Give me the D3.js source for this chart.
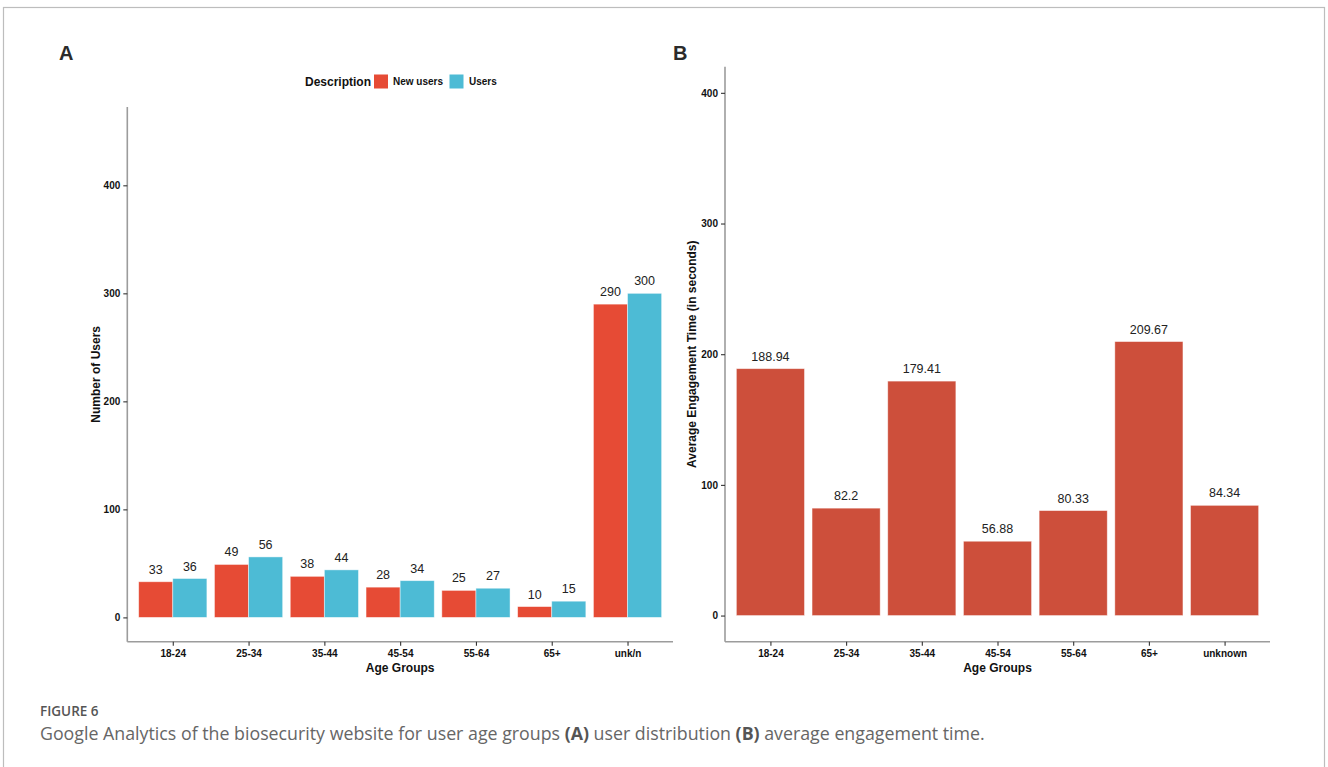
<!DOCTYPE html>
<html>
<head>
<meta charset="utf-8">
<script src="https://cdn.jsdelivr.net/npm/d3@7"></script>
<style>
  html, body { margin: 0; padding: 0; background: #fff; }
  svg { display: block; }
</style>
</head>
<body>
<svg id="fig" width="1328" height="767"></svg>
<script>
// Age groups and Google Analytics figures
const groupsA = ["18-24", "25-34", "35-44", "45-54", "55-64", "65+", "unk/n"];
const newUsers = [33, 49, 38, 28, 25, 10, 290];
const users = [36, 56, 44, 34, 27, 15, 300];
const seriesNames = ["New users", "Users"];
const seriesColors = ["#E64B35", "#4DBBD5"];

const groupsB = ["18-24", "25-34", "35-44", "45-54", "55-64", "65+", "unknown"];
const engagement = [188.94, 82.2, 179.41, 56.88, 80.33, 209.67, 84.34];
const engagementLabels = ["188.94", "82.2", "179.41", "56.88", "80.33", "209.67", "84.34"];

const ticksA = [0, 100, 200, 300, 400];
const ticksB = [0, 100, 200, 300, 400];

const svg = d3.select("#fig");
const FONT = "Liberation Sans, Arial, Helvetica, sans-serif";

// outer frame
svg.append("rect")
  .attr("x", 3.5).attr("y", 7.5).attr("width", 1321).attr("height", 800)
  .attr("fill", "none").attr("stroke", "#bdbdbd").attr("stroke-width", 1.2);

function panel(opts) {
  const g = svg.append("g");
  const x = d3.scalePoint().domain(opts.cats).range([opts.left, opts.right]).padding(0.6);
  const step = x.step();
  // 5% expansion around the limits
  const lo = opts.ymin - 0.05 * (opts.ymax - opts.ymin);
  const hi = opts.ymax + 0.05 * (opts.ymax - opts.ymin);
  const y = d3.scaleLinear().domain([lo, hi]).range([opts.bottom, opts.top]);
  return { g, x, y, step };
}

function drawAxes(p, opts) {
  const { g, x, y } = p;
  // x axis
  const xa = g.append("g").attr("transform", `translate(0,${opts.bottom})`)
    .call(d3.axisBottom(x).tickSize(4).tickPadding(4));
  // y axis
  const ya = g.append("g").attr("transform", `translate(${opts.left},0)`)
    .call(d3.axisLeft(y).tickValues(opts.ticks).tickSize(4).tickPadding(3).tickFormat(d3.format("d")));
  [xa, ya].forEach(a => {
    a.select(".domain").attr("stroke", "#9c9c9c").attr("stroke-width", 1.6);
    a.selectAll(".tick line").attr("stroke", "#333").attr("stroke-width", 1.1);
    a.selectAll(".tick text")
      .attr("font-family", FONT).attr("font-size", 10).attr("font-weight", "bold").attr("fill", "#111");
  });
  xa.select(".domain").attr("d", `M${opts.left},0H${opts.right}`);
  ya.select(".domain").attr("d", `M0,${opts.bottom}V${opts.top}`);

  g.append("text")
    .attr("x", (opts.left + opts.right) / 2).attr("y", opts.bottom + 30)
    .attr("text-anchor", "middle")
    .attr("font-family", FONT).attr("font-size", 12).attr("font-weight", "bold").attr("fill", "#111")
    .text("Age Groups");
  g.append("text")
    .attr("transform", `translate(${opts.ytitleX},${(opts.top + opts.bottom) / 2}) rotate(-90)`)
    .attr("text-anchor", "middle")
    .attr("font-family", FONT).attr("font-size", 12).attr("font-weight", "bold").attr("fill", "#111")
    .text(opts.ytitle);
}

// ---- Panel A: users per age group ----
const optsA = { cats: groupsA, left: 127.3, right: 673, top: 107, bottom: 641.7,
                ymin: 0, ymax: 450, ticks: ticksA, ytitle: "Number of Users", ytitleX: 100 };
const pA = panel(optsA);
const seriesA = [newUsers, users];
const half = pA.step * 0.45;
seriesA.forEach((vals, si) => {
  const bars = pA.g.append("g");
  groupsA.forEach((c, i) => {
    const bx = pA.x(c) - pA.step * 0.45 + si * half;
    bars.append("rect")
      .attr("x", bx).attr("width", half)
      .attr("y", pA.y(vals[i])).attr("height", pA.y(0) - pA.y(vals[i]))
      .attr("fill", seriesColors[si])
      .attr("stroke", "#ffffff").attr("stroke-opacity", 0.55).attr("stroke-width", 0.8);
    bars.append("text")
      .attr("x", bx + half / 2).attr("y", pA.y(vals[i]) - 8)
      .attr("text-anchor", "middle")
      .attr("font-family", FONT).attr("font-size", 12.5).attr("fill", "#222")
      .text(vals[i]);
  });
});
drawAxes(pA, optsA);

// legend
const leg = svg.append("g");
leg.append("text").attr("x", 305).attr("y", 85.5)
  .attr("font-family", FONT).attr("font-size", 12).attr("font-weight", "bold").attr("fill", "#111")
  .text("Description");
const legItems = [{ x: 374, tx: 393 }, { x: 449.5, tx: 469 }];
legItems.forEach((it, i) => {
  leg.append("rect").attr("x", it.x).attr("y", 74.5).attr("width", 14).attr("height", 14)
    .attr("fill", seriesColors[i]);
  leg.append("text").attr("x", it.tx).attr("y", 85)
    .attr("font-family", FONT).attr("font-size", 10).attr("font-weight", "bold").attr("fill", "#111")
    .text(seriesNames[i]);
});

// ---- Panel B: average engagement time ----
const optsB = { cats: groupsB, left: 725, right: 1270, top: 66.7, bottom: 641.7,
                ymin: 0, ymax: 400, ticks: ticksB,
                ytitle: "Average Engagement Time (in seconds)", ytitleX: 696 };
const pB = panel(optsB);
const barsB = pB.g.append("g");
groupsB.forEach((c, i) => {
  const w = pB.step * 0.9;
  const bx = pB.x(c) - w / 2;
  barsB.append("rect")
    .attr("x", bx).attr("width", w)
    .attr("y", pB.y(engagement[i])).attr("height", pB.y(0) - pB.y(engagement[i]))
    .attr("fill", "#CD4F3B")
    .attr("stroke", "#ffffff").attr("stroke-opacity", 0.55).attr("stroke-width", 0.8);
  barsB.append("text")
    .attr("x", pB.x(c)).attr("y", pB.y(engagement[i]) - 8)
    .attr("text-anchor", "middle")
    .attr("font-family", FONT).attr("font-size", 12.5).attr("fill", "#222")
    .text(engagementLabels[i]);
});
drawAxes(pB, optsB);

// panel letters
svg.append("text").attr("x", 59).attr("y", 60)
  .attr("font-family", FONT).attr("font-size", 20).attr("font-weight", "bold").attr("fill", "#2b2b2b")
  .text("A");
svg.append("text").attr("x", 673).attr("y", 60)
  .attr("font-family", FONT).attr("font-size", 20).attr("font-weight", "bold").attr("fill", "#2b2b2b")
  .text("B");

// caption
const CAP = "Open Sans, Noto Sans, sans-serif";
svg.append("text").attr("x", 40).attr("y", 716)
  .attr("font-family", CAP).attr("font-size", 13.5).attr("font-weight", 600).attr("fill", "#555")
  .text("FIGURE 6");
const cap = svg.append("text").attr("x", 40).attr("y", 739.5)
  .attr("font-family", CAP).attr("font-size", 17.8).attr("fill", "#666");
cap.append("tspan").text("Google Analytics of the biosecurity website for user age groups ");
cap.append("tspan").attr("font-weight", "bold").attr("fill", "#555").text("(A)");
cap.append("tspan").text(" user distribution ");
cap.append("tspan").attr("font-weight", "bold").attr("fill", "#555").text("(B)");
cap.append("tspan").text(" average engagement time.");
</script>
</body>
</html>
